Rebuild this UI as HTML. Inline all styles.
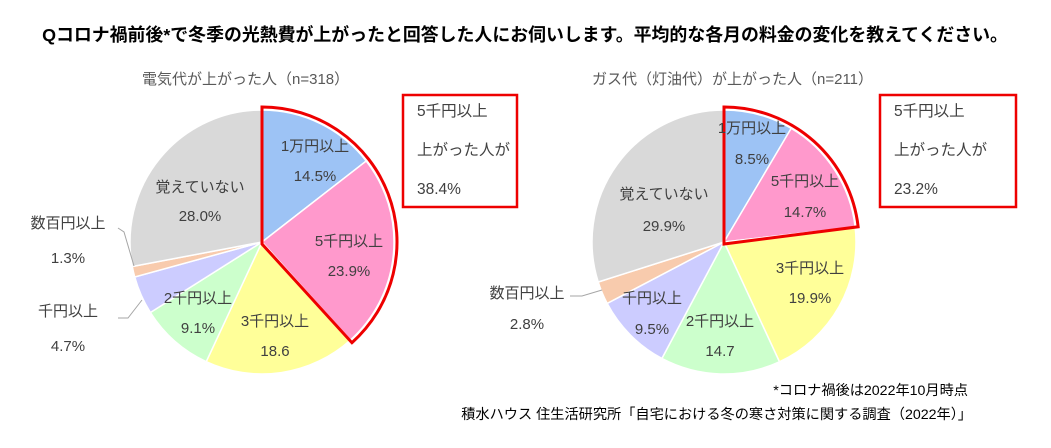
<!DOCTYPE html>
<html><head><meta charset="utf-8"><style>
body{margin:0;background:#fff;}
svg text{font-family:"Liberation Sans","Noto Sans CJK JP",sans-serif;}
</style></head><body>
<svg id="s" width="1051" height="443" viewBox="0 0 1051 443" xmlns="http://www.w3.org/2000/svg">
<rect width="1051" height="443" fill="#fff"/>
<g id="p1"></g><g id="p2"></g>
<text x="525" y="41" font-size="17.9" font-weight="bold" text-anchor="middle" fill="#000">Qコロナ禍前後*で冬季の光熱費が上がったと回答した人にお伺いします。平均的な各月の料金の変化を教えてください。</text>
<g font-size="15" fill="#595959">
<text x="142" y="84">電気代が上がった人（n=318）</text>
<text x="592" y="84">ガス代（灯油代）が上がった人（n=211）</text>
</g>
<g fill="#fff" stroke="#e00" stroke-width="2.5">
<rect x="403" y="95" width="114" height="112"/>
<rect x="880" y="95" width="136" height="112"/>
</g>
<g font-size="15.5" fill="#404040">
<text x="417" y="116">5千円以上</text><text x="417" y="155">上がった人が</text><text x="417" y="194">38.4%</text>
<text x="894" y="116">5千円以上</text><text x="894" y="155">上がった人が</text><text x="894" y="194">23.2%</text>
</g>
<g stroke="#a6a6a6" stroke-width="1" fill="none">
<polyline points="118,228 124,232 134,266"/>
<polyline points="118,318 128,318 142,300"/>
<polyline points="570,296 582,296 602,290"/>
</g>
<g font-size="15" fill="#404040" text-anchor="middle">
<text x="315" y="151">1万円以上</text><text x="315" y="181">14.5%</text>
<text x="349" y="246">5千円以上</text><text x="349" y="276">23.9%</text>
<text x="275" y="326">3千円以上</text><text x="275" y="356">18.6</text>
<text x="198" y="303">2千円以上</text><text x="198" y="333">9.1%</text>
<text x="200" y="192">覚えていない</text><text x="200" y="221">28.0%</text>
<text x="68" y="228">数百円以上</text><text x="68" y="263">1.3%</text>
<text x="68" y="316">千円以上</text><text x="68" y="351">4.7%</text>
<text x="752" y="133">1万円以上</text><text x="752" y="164">8.5%</text>
<text x="805" y="186">5千円以上</text><text x="805" y="217">14.7%</text>
<text x="810" y="273">3千円以上</text><text x="810" y="303">19.9%</text>
<text x="720" y="326">2千円以上</text><text x="720" y="356">14.7</text>
<text x="652" y="303">千円以上</text><text x="652" y="334">9.5%</text>
<text x="664" y="199">覚えていない</text><text x="664" y="231">29.9%</text>
<text x="527" y="298">数百円以上</text><text x="527" y="329">2.8%</text>
</g>
<g font-size="14.2" fill="#000" text-anchor="end">
<text x="968" y="395">*コロナ禍後は2022年10月時点</text>
<text x="972" y="419">積水ハウス 住生活研究所「自宅における冬の寒さ対策に関する調査（2022年）」</text>
</g>
</svg>
<script>
var cols=["#9DC3F5","#FF99CC","#FFFF99","#CCFFCC","#CCCCFF","#F8CBAD","#D9D9D9"];
function pt(cx,cy,r,f){var a=f*2*Math.PI;return [cx+r*Math.sin(a),cy-r*Math.cos(a)];}
function pie(id,cx,cy,r,vals,hl){
 var g=document.getElementById(id),c=0,tot=vals.reduce(function(a,b){return a+b;},0),h="";
 vals.forEach(function(v,i){var f0=c/tot,f1=(c+v)/tot;c+=v;var p0=pt(cx,cy,r,f0),p1=pt(cx,cy,r,f1);
  h+='<path d="M'+cx+','+cy+' L'+p0+' A'+r+','+r+' 0 '+((f1-f0)>0.5?1:0)+' 1 '+p1+' Z" fill="'+cols[i]+'" stroke="#fff" stroke-width="1.5"/>';});
 var R=r+3,q0=pt(cx,cy,R,0),q1=pt(cx,cy,R,hl);
 h+='<path d="M'+cx+','+(cy+2)+' L'+q0+' A'+R+','+R+' 0 0 1 '+q1+' Z" fill="none" stroke="#e00" stroke-width="3" stroke-linejoin="miter"/>';
 g.innerHTML=h;}
pie("p1",262,242,132,[14.5,23.9,18.6,9.1,4.7,1.3,28.0],0.384);
pie("p2",724,242,132,[8.5,14.7,19.9,14.7,9.5,2.8,29.9],0.232);
</script>
</body></html>
